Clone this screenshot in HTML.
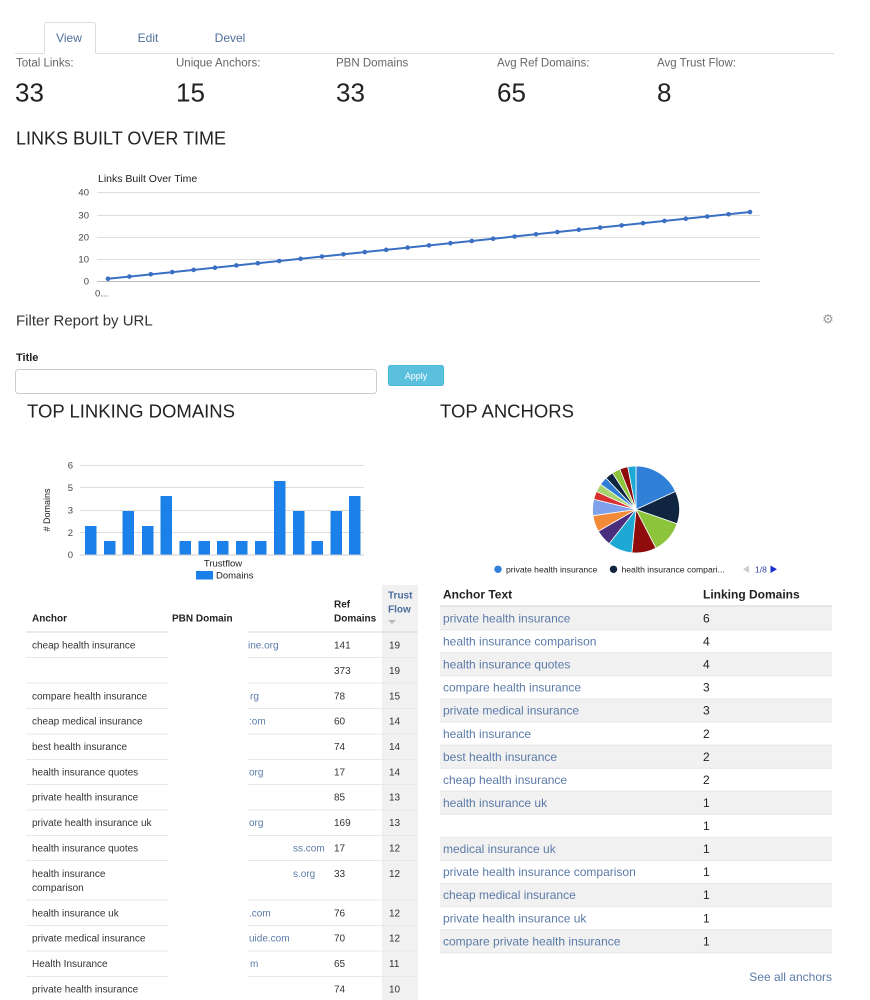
<!DOCTYPE html>
<html><head><meta charset="utf-8"><style>
html,body{margin:0;padding:0;background:#fff;width:870px;height:1000px;overflow:hidden}
svg{display:block;font-family:"Liberation Sans",Arial,sans-serif}
</style></head><body>
<svg width="870" height="1000" viewBox="0 0 870 1000" xmlns="http://www.w3.org/2000/svg">
<!-- tabs -->
<path d="M44.5 53 V25 Q44.5 22.5 47 22.5 H92.5 Q95.5 22.5 95.5 25 V53" fill="#fff" stroke="#ddd"/>
<line x1="15" y1="53.5" x2="44.5" y2="53.5" stroke="#ddd"/>
<line x1="95.5" y1="53.5" x2="834" y2="53.5" stroke="#ddd"/>
<g font-size="12" fill="#4f6f9a" text-anchor="middle">
<text x="69" y="42.2">View</text><text x="148" y="42.2">Edit</text><text x="230" y="42.2">Devel</text></g>
<!-- stats -->
<g font-size="11.5" fill="#666">
<text x="16" y="66.5">Total Links:</text><text x="176" y="66.5">Unique Anchors:</text><text x="336" y="66.5">PBN Domains</text><text x="497" y="66.5">Avg Ref Domains:</text><text x="657" y="66.5">Avg Trust Flow:</text></g>
<g font-size="26" fill="#222">
<text x="15" y="101.5">33</text><text x="176" y="101.5">15</text><text x="336" y="101.5">33</text><text x="497" y="101.5">65</text><text x="657" y="101.5">8</text></g>
<text x="16" y="144.5" font-size="18" fill="#222">LINKS BUILT OVER TIME</text>
<!-- line chart -->
<text x="98" y="182" font-size="10.5" fill="#222">Links Built Over Time</text>
<g stroke="#ddd" stroke-width="1">
<line x1="97" y1="192.5" x2="760" y2="192.5"/><line x1="97" y1="215.5" x2="760" y2="215.5"/><line x1="97" y1="237.5" x2="760" y2="237.5"/><line x1="97" y1="259.5" x2="760" y2="259.5"/></g>
<line x1="97" y1="281.5" x2="760" y2="281.5" stroke="#bbb"/>
<g font-size="9.5" fill="#444" text-anchor="end">
<text x="89" y="195.5">40</text><text x="89" y="218.5">30</text><text x="89" y="240.5">20</text><text x="89" y="262.5">10</text><text x="89" y="284.5">0</text></g>
<text x="95" y="296.5" font-size="9.5" fill="#444">0...</text>
<line x1="108" y1="278.8" x2="750" y2="212" stroke="#3a6fc4" stroke-width="2"/>
<g fill="#3a6fc4">
<circle cx="108" cy="278.8" r="2.3"/><circle cx="129.4" cy="276.55" r="2.3"/><circle cx="150.8" cy="274.3" r="2.3"/><circle cx="172.2" cy="272.1" r="2.3"/><circle cx="193.6" cy="269.9" r="2.3"/><circle cx="215" cy="267.7" r="2.3"/><circle cx="236.4" cy="265.4" r="2.3"/><circle cx="257.8" cy="263.2" r="2.3"/><circle cx="279.2" cy="261" r="2.3"/><circle cx="300.6" cy="258.75" r="2.3"/><circle cx="322" cy="256.5" r="2.3"/><circle cx="343.4" cy="254.3" r="2.3"/><circle cx="364.8" cy="252.1" r="2.3"/><circle cx="386.2" cy="249.85" r="2.3"/><circle cx="407.6" cy="247.6" r="2.3"/><circle cx="429" cy="245.4" r="2.3"/><circle cx="450.4" cy="243.2" r="2.3"/><circle cx="471.8" cy="240.95" r="2.3"/><circle cx="493.2" cy="238.7" r="2.3"/><circle cx="514.6" cy="236.5" r="2.3"/><circle cx="536" cy="234.3" r="2.3"/><circle cx="557.4" cy="232.05" r="2.3"/><circle cx="578.8" cy="229.8" r="2.3"/><circle cx="600.2" cy="227.6" r="2.3"/><circle cx="621.6" cy="225.4" r="2.3"/><circle cx="643" cy="223.15" r="2.3"/><circle cx="664.4" cy="220.9" r="2.3"/><circle cx="685.8" cy="218.7" r="2.3"/><circle cx="707.2" cy="216.5" r="2.3"/><circle cx="728.6" cy="214.25" r="2.3"/><circle cx="750" cy="212" r="2.3"/></g>
<!-- filter -->
<text x="16" y="325.5" font-size="15" fill="#333">Filter Report by URL</text>
<text x="828" y="323.5" font-size="13" fill="#999" text-anchor="middle" font-family="DejaVu Sans, sans-serif">⚙</text>
<text x="16" y="361" font-size="11" font-weight="bold" fill="#222">Title</text>
<rect x="15.5" y="369.5" width="361" height="24" rx="3" fill="#fff" stroke="#ccc"/>
<rect x="388.5" y="365.5" width="55" height="20" rx="2" fill="#5bc0de" stroke="#46b8da"/>
<text x="416" y="379" font-size="9" fill="#fff" text-anchor="middle">Apply</text>
<text x="27" y="417.6" font-size="18.5" fill="#222">TOP LINKING DOMAINS</text>
<text x="440" y="417.6" font-size="18.5" fill="#222">TOP ANCHORS</text>
<!-- bar chart -->
<g stroke="#ddd"><line x1="80" y1="465.5" x2="364" y2="465.5"/><line x1="80" y1="487.5" x2="364" y2="487.5"/><line x1="80" y1="510.5" x2="364" y2="510.5"/><line x1="80" y1="532.5" x2="364" y2="532.5"/></g>
<g font-size="9.5" fill="#444" text-anchor="end">
<text x="73" y="468.5">6</text><text x="73" y="491">5</text><text x="73" y="513.5">3</text><text x="73" y="536">2</text><text x="73" y="558">0</text></g>
<text transform="translate(50,510) rotate(-90)" font-size="9" fill="#222" text-anchor="middle">#  Domains</text>
<g fill="#1c80ea">
<rect x="85" y="526" width="11.5" height="29"/><rect x="104" y="541" width="11.5" height="14"/><rect x="122.5" y="511" width="11.5" height="44"/><rect x="142" y="526" width="11.5" height="29"/><rect x="160.5" y="496" width="11.5" height="59"/><rect x="179.5" y="541" width="11.5" height="14"/><rect x="198.5" y="541" width="11.5" height="14"/><rect x="217" y="541" width="11.5" height="14"/><rect x="236" y="541" width="11.5" height="14"/><rect x="255" y="541" width="11.5" height="14"/><rect x="274" y="481" width="11.5" height="74"/><rect x="293" y="511" width="11.5" height="44"/><rect x="311.5" y="541" width="11.5" height="14"/><rect x="330.5" y="511" width="11.5" height="44"/><rect x="349" y="496" width="11.5" height="59"/></g>
<line x1="80" y1="555" x2="364" y2="555" stroke="#ccc"/>
<text x="223" y="566.5" font-size="9.5" fill="#222" text-anchor="middle">Trustflow</text>
<rect x="196" y="571" width="17" height="8.5" fill="#1c80ea"/>
<text x="216" y="578.5" font-size="9.5" fill="#222">Domains</text>
<!-- pie -->
<g stroke="#fff" stroke-width="0.8">
<path d="M636 509.5 L636 466 A43.5 43.5 0 0 1 675.57 491.43 Z" fill="#3080d8"/>
<path d="M636 509.5 L675.57 491.43 A43.5 43.5 0 0 1 677.11 523.72 Z" fill="#0f2540"/>
<path d="M636 509.5 L677.11 523.72 A43.5 43.5 0 0 1 655.93 548.16 Z" fill="#8cc43c"/>
<path d="M636 509.5 L655.93 548.16 A43.5 43.5 0 0 1 631.87 552.8 Z" fill="#8e0c0c"/>
<path d="M636 509.5 L631.87 552.8 A43.5 43.5 0 0 1 609.11 543.69 Z" fill="#1ea8d4"/>
<path d="M636 509.5 L609.11 543.69 A43.5 43.5 0 0 1 598.33 531.25 Z" fill="#4b2d7e"/>
<path d="M636 509.5 L598.33 531.25 A43.5 43.5 0 0 1 592.94 515.69 Z" fill="#f28a3a"/>
<path d="M636 509.5 L592.94 515.69 A43.5 43.5 0 0 1 593.73 499.24 Z" fill="#7fa0ea"/>
<path d="M636 509.5 L593.73 499.24 A43.5 43.5 0 0 1 596.43 491.43 Z" fill="#d8302e"/>
<path d="M636 509.5 L596.43 491.43 A43.5 43.5 0 0 1 600.56 484.27 Z" fill="#a8d470"/>
<path d="M636 509.5 L600.56 484.27 A43.5 43.5 0 0 1 605.98 478.02 Z" fill="#2f7ed4"/>
<path d="M636 509.5 L605.98 478.02 A43.5 43.5 0 0 1 612.48 472.9 Z" fill="#0f2540"/>
<path d="M636 509.5 L612.48 472.9 A43.5 43.5 0 0 1 619.83 469.11 Z" fill="#8cc43c"/>
<path d="M636 509.5 L619.83 469.11 A43.5 43.5 0 0 1 627.77 466.79 Z" fill="#8e0c0c"/>
<path d="M636 509.5 L627.77 466.79 A43.5 43.5 0 0 1 636 466 Z" fill="#1ea8d4"/></g>
<circle cx="498" cy="569.3" r="3.7" fill="#3080d8"/>
<text x="506" y="572.3" font-size="8.6" fill="#222">private health insurance</text>
<circle cx="613.5" cy="569.3" r="3.7" fill="#0f2540"/>
<text x="621.5" y="572.3" font-size="8.6" fill="#222">health insurance compari...</text>
<polygon points="743,569.3 749,565.5 749,573" fill="#ccc"/>
<text x="755" y="572.3" font-size="8.6" fill="#3344aa">1/8</text>
<polygon points="777,569.3 770.5,565.5 770.5,573" fill="#1a2fd0"/>
<!-- left table -->
<rect x="382" y="585" width="36" height="415" fill="#f1f1f1"/>
<g font-size="10" font-weight="bold" fill="#222">
<text x="32" y="621.5">Anchor</text><text x="172" y="621.5">PBN Domain</text><text x="334" y="607.5">Ref</text><text x="334" y="621.5">Domains</text></g>
<g font-size="10" font-weight="bold" fill="#4a6da0"><text x="388" y="598.5">Trust</text><text x="388" y="612.5">Flow</text></g>
<polygon points="388,620 396,620 392,624" fill="#bbb"/>
<g stroke="#ddd" stroke-width="1.3"><line x1="26" y1="632" x2="168" y2="632"/><line x1="248" y1="632" x2="418" y2="632"/></g>
<g stroke="#e8e8e8">
<line x1="26" y1="657.5" x2="168" y2="657.5"/><line x1="248" y1="657.5" x2="418" y2="657.5"/>
<line x1="26" y1="683" x2="168" y2="683"/><line x1="248" y1="683" x2="418" y2="683"/>
<line x1="26" y1="708.5" x2="168" y2="708.5"/><line x1="248" y1="708.5" x2="418" y2="708.5"/>
<line x1="26" y1="734" x2="168" y2="734"/><line x1="248" y1="734" x2="418" y2="734"/>
<line x1="26" y1="759.5" x2="168" y2="759.5"/><line x1="248" y1="759.5" x2="418" y2="759.5"/>
<line x1="26" y1="784.5" x2="168" y2="784.5"/><line x1="248" y1="784.5" x2="418" y2="784.5"/>
<line x1="26" y1="810" x2="168" y2="810"/><line x1="248" y1="810" x2="418" y2="810"/>
<line x1="26" y1="835.5" x2="168" y2="835.5"/><line x1="248" y1="835.5" x2="418" y2="835.5"/>
<line x1="26" y1="860.5" x2="168" y2="860.5"/><line x1="248" y1="860.5" x2="418" y2="860.5"/>
<line x1="26" y1="900" x2="168" y2="900"/><line x1="248" y1="900" x2="418" y2="900"/>
<line x1="26" y1="925.5" x2="168" y2="925.5"/><line x1="248" y1="925.5" x2="418" y2="925.5"/>
<line x1="26" y1="951" x2="168" y2="951"/><line x1="248" y1="951" x2="418" y2="951"/>
<line x1="26" y1="976.5" x2="168" y2="976.5"/><line x1="248" y1="976.5" x2="418" y2="976.5"/></g>
<g font-size="10" fill="#333">
<text x="32" y="648.5">cheap health insurance</text>
<text x="32" y="699.5">compare health insurance</text>
<text x="32" y="724.5">cheap medical insurance</text>
<text x="32" y="750">best health insurance</text>
<text x="32" y="775.5">health insurance quotes</text>
<text x="32" y="800.5">private health insurance</text>
<text x="32" y="826">private health insurance uk</text>
<text x="32" y="851.5">health insurance quotes</text>
<text x="32" y="877">health insurance</text>
<text x="32" y="891">comparison</text>
<text x="32" y="916.5">health insurance uk</text>
<text x="32" y="941.5">private medical insurance</text>
<text x="32" y="967">Health Insurance</text>
<text x="32" y="992.5">private health insurance</text>
<text x="334" y="648.5">141</text><text x="389" y="648.5">19</text>
<text x="334" y="674">373</text><text x="389" y="674">19</text>
<text x="334" y="699.5">78</text><text x="389" y="699.5">15</text>
<text x="334" y="724.5">60</text><text x="389" y="724.5">14</text>
<text x="334" y="750">74</text><text x="389" y="750">14</text>
<text x="334" y="775.5">17</text><text x="389" y="775.5">14</text>
<text x="334" y="800.5">85</text><text x="389" y="800.5">13</text>
<text x="334" y="826">169</text><text x="389" y="826">13</text>
<text x="334" y="851.5">17</text><text x="389" y="851.5">12</text>
<text x="334" y="877">33</text><text x="389" y="877">12</text>
<text x="334" y="916.5">76</text><text x="389" y="916.5">12</text>
<text x="334" y="941.5">70</text><text x="389" y="941.5">12</text>
<text x="334" y="967">65</text><text x="389" y="967">11</text>
<text x="334" y="992.5">74</text><text x="389" y="992.5">10</text></g>
<g font-size="10" fill="#5b7aa8">
<text x="248" y="648.5">ine.org</text>
<text x="250" y="699.5">rg</text>
<text x="249" y="724.5">:om</text>
<text x="249" y="775.5">org</text>
<text x="249" y="826">org</text>
<text x="293" y="851.5">ss.com</text>
<text x="293" y="877">s.org</text>
<text x="249" y="916.5">.com</text>
<text x="249" y="941.5">uide.com</text>
<text x="250" y="967">m</text></g>
<!-- right table -->
<g font-size="12" font-weight="bold" fill="#222"><text x="443" y="598.5">Anchor Text</text><text x="703" y="598.5">Linking Domains</text></g>
<line x1="440" y1="606" x2="832" y2="606" stroke="#ddd" stroke-width="1.5"/>
<g fill="#f1f1f1">
<rect x="440" y="606.7" width="392" height="23"/><rect x="440" y="652.8" width="392" height="23"/><rect x="440" y="699" width="392" height="23"/><rect x="440" y="745.1" width="392" height="23"/><rect x="440" y="791.3" width="392" height="23"/><rect x="440" y="837.4" width="392" height="23"/><rect x="440" y="883.5" width="392" height="23"/><rect x="440" y="929.7" width="392" height="23"/></g>
<g stroke="#e6e6e6">
<line x1="440" y1="629.8" x2="832" y2="629.8"/><line x1="440" y1="652.8" x2="832" y2="652.8"/><line x1="440" y1="675.9" x2="832" y2="675.9"/><line x1="440" y1="699" x2="832" y2="699"/><line x1="440" y1="722" x2="832" y2="722"/><line x1="440" y1="745.1" x2="832" y2="745.1"/><line x1="440" y1="768.2" x2="832" y2="768.2"/><line x1="440" y1="791.3" x2="832" y2="791.3"/><line x1="440" y1="814.3" x2="832" y2="814.3"/><line x1="440" y1="837.4" x2="832" y2="837.4"/><line x1="440" y1="860.5" x2="832" y2="860.5"/><line x1="440" y1="883.5" x2="832" y2="883.5"/><line x1="440" y1="906.6" x2="832" y2="906.6"/><line x1="440" y1="929.7" x2="832" y2="929.7"/><line x1="440" y1="952.7" x2="832" y2="952.7"/></g>
<g font-size="12" fill="#5b7aa8">
<text x="443" y="622.4">private health insurance</text>
<text x="443" y="645.5">health insurance comparison</text>
<text x="443" y="668.5">health insurance quotes</text>
<text x="443" y="691.6">compare health insurance</text>
<text x="443" y="714.7">private medical insurance</text>
<text x="443" y="737.8">health insurance</text>
<text x="443" y="760.8">best health insurance</text>
<text x="443" y="783.9">cheap health insurance</text>
<text x="443" y="807">health insurance uk</text>
<text x="443" y="853.1">medical insurance uk</text>
<text x="443" y="876.2">private health insurance comparison</text>
<text x="443" y="899.2">cheap medical insurance</text>
<text x="443" y="922.3">private health insurance uk</text>
<text x="443" y="945.4">compare private health insurance</text></g>
<g font-size="12" fill="#222">
<text x="703" y="622.4">6</text><text x="703" y="645.5">4</text><text x="703" y="668.5">4</text><text x="703" y="691.6">3</text><text x="703" y="714.7">3</text><text x="703" y="737.8">2</text><text x="703" y="760.8">2</text><text x="703" y="783.9">2</text><text x="703" y="807">1</text><text x="703" y="830">1</text><text x="703" y="853.1">1</text><text x="703" y="876.2">1</text><text x="703" y="899.2">1</text><text x="703" y="922.3">1</text><text x="703" y="945.4">1</text></g>
<text x="832" y="981" font-size="12" fill="#5b7aa8" text-anchor="end">See all anchors</text>
</svg>
</body></html>
